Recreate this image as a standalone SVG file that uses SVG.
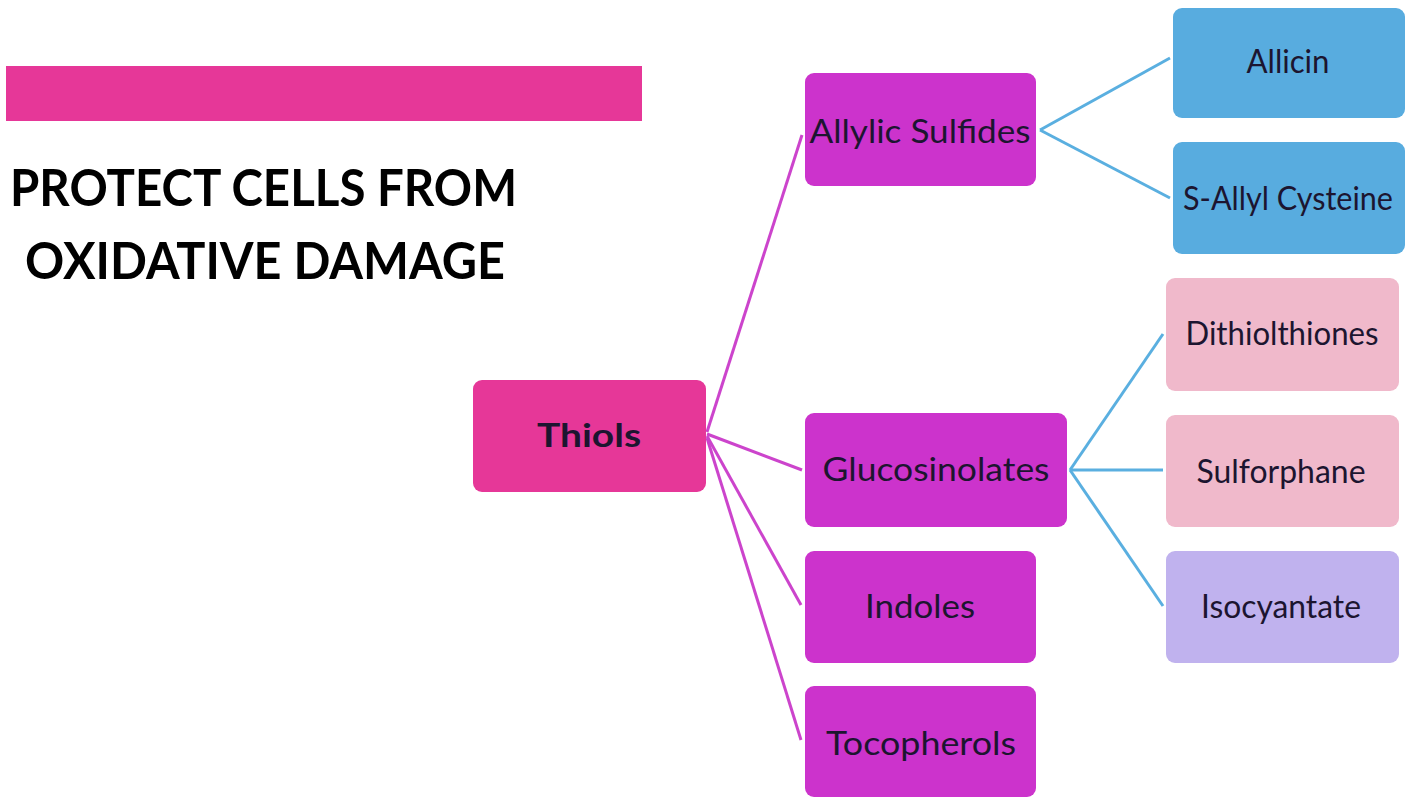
<svg xmlns="http://www.w3.org/2000/svg" width="1413" height="798" viewBox="0 0 1413 798">
<style>
.lbl{font-family:Lato,"Open Sans","Liberation Sans",sans-serif;font-size:32px;fill:#1c1530;text-anchor:middle;dominant-baseline:central}
.title{font-family:Lato,"Open Sans","Liberation Sans",sans-serif;font-size:51px;font-weight:bold;fill:#000}
.mag{stroke:#cc44cc;stroke-width:3;fill:none}
.blu{stroke:#5aafe0;stroke-width:3;fill:none}
.l1{fill:#cc33cc}
.bl{fill:#58acdf}
.pk{fill:#f0b9cb}
.lv{fill:#c0b2ee}
</style>
<rect width="1413" height="798" fill="#ffffff"/>
<rect x="6" y="66" width="636" height="55" fill="#e63798"/>
<text class="title" x="10" y="206" textLength="507" lengthAdjust="spacingAndGlyphs">PROTECT CELLS FROM</text>
<text class="title" x="25" y="279" textLength="480" lengthAdjust="spacingAndGlyphs">OXIDATIVE DAMAGE</text>
<g id="connectors">
<line class="mag" x1="707" y1="432" x2="802" y2="135"/>
<line class="mag" x1="707" y1="434" x2="802" y2="470"/>
<line class="mag" x1="707" y1="436" x2="801" y2="605"/>
<line class="mag" x1="707" y1="438" x2="801" y2="740"/>
<line class="blu" x1="1040" y1="130" x2="1170" y2="58"/>
<line class="blu" x1="1040" y1="130" x2="1170" y2="198"/>
<line class="blu" x1="1070" y1="470" x2="1163" y2="334"/>
<line class="blu" x1="1070" y1="470" x2="1163" y2="470"/>
<line class="blu" x1="1070" y1="470" x2="1163" y2="606"/>
</g>
<g id="thiols"><rect x="473" y="380" width="233" height="112" rx="9" fill="#e63798"/><text class="lbl" x="589" y="434" font-weight="bold" font-size="35" textLength="104" lengthAdjust="spacingAndGlyphs">Thiols</text></g>
<g id="allylic"><rect class="l1" x="805" y="73" width="231" height="113" rx="9"/><text class="lbl" x="920" y="130" textLength="221" lengthAdjust="spacingAndGlyphs">Allylic Sulfides</text></g>
<g id="glucosinolates"><rect class="l1" x="805" y="413" width="262" height="114" rx="9"/><text class="lbl" x="936" y="468" textLength="227" lengthAdjust="spacingAndGlyphs">Glucosinolates</text></g>
<g id="indoles"><rect class="l1" x="805" y="551" width="231" height="112" rx="9"/><text class="lbl" x="920" y="605" textLength="110" lengthAdjust="spacingAndGlyphs">Indoles</text></g>
<g id="tocopherols"><rect class="l1" x="805" y="686" width="231" height="111" rx="9"/><text class="lbl" x="921" y="742" textLength="190" lengthAdjust="spacingAndGlyphs">Tocopherols</text></g>
<g id="allicin"><rect class="bl" x="1173" y="8" width="232" height="110" rx="9"/><text class="lbl" x="1288" y="60" textLength="83" lengthAdjust="spacingAndGlyphs">Allicin</text></g>
<g id="sallyl"><rect class="bl" x="1173" y="142" width="232" height="112" rx="9"/><text class="lbl" x="1288" y="197" textLength="210" lengthAdjust="spacingAndGlyphs">S-Allyl Cysteine</text></g>
<g id="dithiolthiones"><rect class="pk" x="1166" y="278" width="233" height="113" rx="9"/><text class="lbl" x="1282" y="332" textLength="193" lengthAdjust="spacingAndGlyphs">Dithiolthiones</text></g>
<g id="sulforphane"><rect class="pk" x="1166" y="415" width="233" height="112" rx="9"/><text class="lbl" x="1281" y="470" textLength="169" lengthAdjust="spacingAndGlyphs">Sulforphane</text></g>
<g id="isocyantate"><rect class="lv" x="1166" y="551" width="233" height="112" rx="9"/><text class="lbl" x="1281" y="605" textLength="160" lengthAdjust="spacingAndGlyphs">Isocyantate</text></g>
</svg>
